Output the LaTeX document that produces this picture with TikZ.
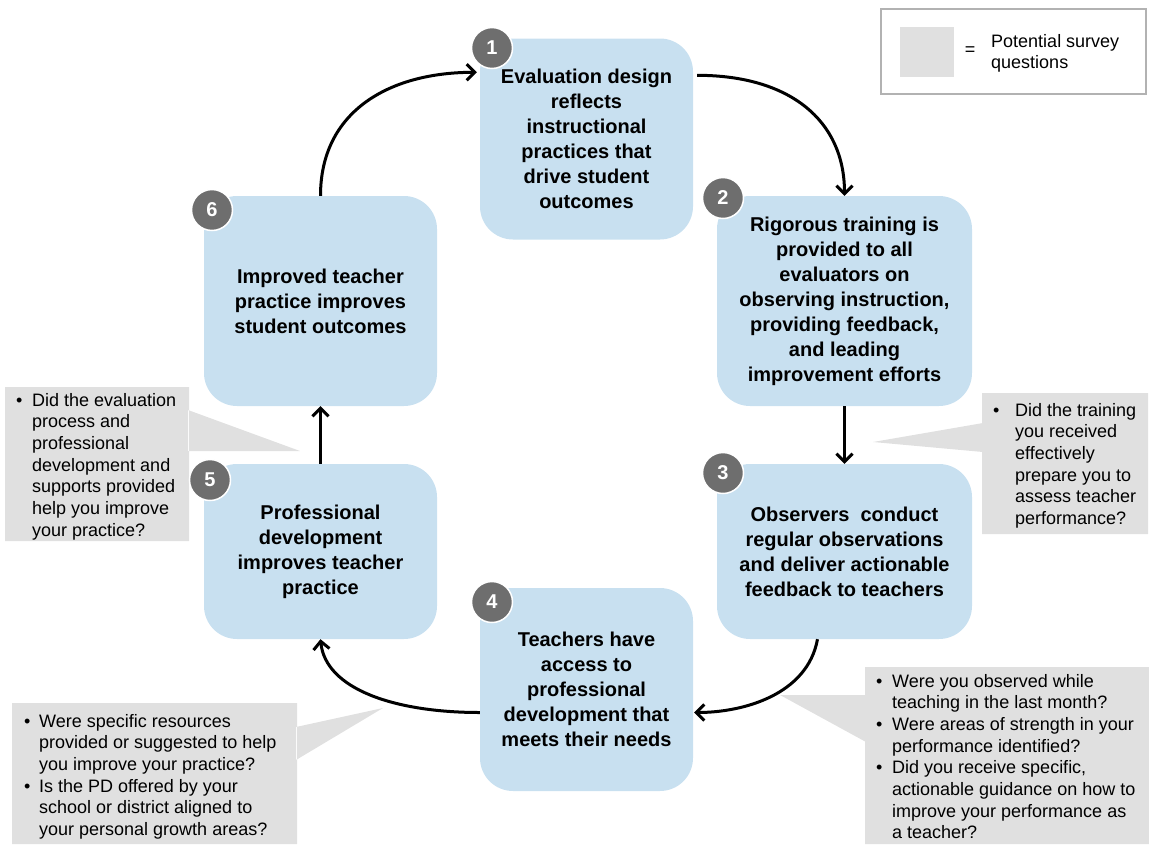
\documentclass[tikz,border=0pt]{standalone}
\usepackage{fontspec}
\setmainfont{Liberation Sans}
\usepackage{tikz}
\usetikzlibrary{arrows.meta,calc}
\definecolor{stageblue}{RGB}{200,224,240}
\definecolor{numgrey}{RGB}{110,110,110}
\definecolor{askgrey}{RGB}{224,224,224}
\definecolor{keyline}{RGB}{178,178,178}

\begin{document}
\begin{tikzpicture}[x=1pt,y=-1pt,
    stage/.style={rounded corners=33pt,fill=stageblue,align=center,inner sep=0pt,
        font=\fontsize{20}{25}\selectfont\bfseries},
    num/.style={circle,fill=numgrey,draw=white,line width=1.5pt,minimum size=41pt,
        inner sep=0pt,text=white,font=\fontsize{20}{20}\selectfont\bfseries},
    flow/.style={line width=3pt,-{Straight Barb[length=8pt,width=16pt]}},
    asktext/.style={anchor=base west,inner sep=0pt,font=\fontsize{18}{21.7}\selectfont}]
    \useasboundingbox (0,0) rectangle (1149,844);

    \def\askleft{(5,387) rectangle (189,541) (188,410) -- (300,451) -- (188,451) -- cycle};
    \def\askright{(982,393) rectangle (1148,534) (983,423) -- (873,442) -- (983,452) -- cycle};
    \def\asklowright{(865,667) rectangle (1149,844) (866,695) -- (780,695) -- (866,742) -- cycle};
    \def\asklowleft{(12,703) rectangle (297,844) (296,727) -- (383,708) -- (296,760) -- cycle};
    \fill[askgrey] \askleft;
    \fill[askgrey] \askright;
    \fill[askgrey] \asklowright;
    \fill[askgrey] \asklowleft;

    \node[stage,minimum width=213pt,minimum height=201pt] (b1) at (586.5,139)
        {Evaluation design\\reflects\\instructional\\practices that\\drive student\\outcomes};
    \node[stage,minimum width=255pt,minimum height=210pt] (b2) at (844.5,301)
        {Rigorous training is\\provided to all\\evaluators on\\observing instruction,\\providing feedback,\\and leading\\improvement efforts};
    \node[stage,minimum width=255pt,minimum height=175pt] (b3) at (844.5,551.5)
        {Observers\ \ conduct\\regular observations\\and deliver actionable\\feedback to teachers};
    \node[stage,minimum width=213pt,minimum height=203pt] (b4) at (586.5,689.5)
        {Teachers have\\access to\\professional\\development that\\meets their needs};
    \node[stage,minimum width=233pt,minimum height=175pt] (b5) at (320.5,551.5)
        {Professional\\development\\improves teacher\\practice};
    \node[stage,minimum width=233pt,minimum height=210pt] (b6) at (320.5,301)
        {Improved teacher\\practice improves\\student outcomes};

    \node[num] (c1) at (492,48) {1};
    \node[num] (c2) at (723,198) {2};
    \node[num] (c3) at (723,473) {3};
    \node[num] (c4) at (492,602) {4};
    \node[num] (c5) at (210,480) {5};
    \node[num] (c6) at (212,210) {6};

    \draw[flow] ($(b1.north east)+(4,37)$) .. controls +(93,0) and +(0,-75) .. (b2.north);
    \draw[flow] (b2.south) -- (b3.north);
    \draw[flow] ($(b3.south)+(-27,0)$) .. controls +(-10,55) and +(50,0) .. ($(b4.east)+(1,23)$);
    \draw[flow] ($(b4.west)+(0,23)$) .. controls +(-85,0) and +(5,50) .. (b5.south);
    \draw[flow] (b5.north) -- (b6.south);
    \draw[flow] (b6.north) .. controls +(0,-85) and +(-87,0) .. ($(b1.north west)+(-3,34)$);

    \node[asktext] (q5) at (16,406) {\begin{tabular}[t]{@{}p{16pt}@{}l@{}}
        •&Did the evaluation\\&process and\\&professional\\&development and\\
        &supports provided\\&help you improve\\&your practice?\end{tabular}};
    \node[asktext] (q2) at (993,416) {\begin{tabular}[t]{@{}p{22pt}@{}l@{}}
        •&Did the training\\&you received\\&effectively\\&prepare you to\\
        &assess teacher\\&performance?\end{tabular}};
    \node[asktext] (q3) at (876,687) {\begin{tabular}[t]{@{}p{16pt}@{}l@{}}
        •&Were you observed while\\&teaching in the last month?\\
        •&Were areas of strength in your\\&performance identified?\\
        •&Did you receive specific,\\&actionable guidance on how to\\
        &improve your performance as\\&a teacher?\end{tabular}};
    \node[asktext] (q4) at (24,727) {\begin{tabular}[t]{@{}p{15pt}@{}l@{}}
        •&Were specific resources\\&provided or suggested to help\\&you improve your practice?\\
        •&Is the PD offered by your\\&school or district aligned to\\&your personal growth areas?\end{tabular}};

    \draw[keyline,line width=2pt] (881,9) rectangle (1146,94);
    \fill[askgrey] (900,27) rectangle (954,77);
    \node[asktext,anchor=center] (eq) at (970,51) {=};
    \node[asktext] (key) at (991,47) {\begin{tabular}[t]{@{}l@{}}Potential survey\\questions\end{tabular}};
\end{tikzpicture}
\end{document}
